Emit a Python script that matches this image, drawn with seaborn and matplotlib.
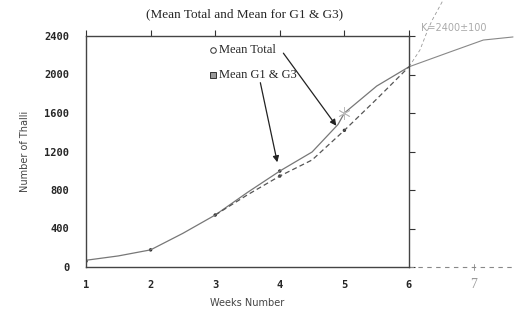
import matplotlib
matplotlib.use("Agg")
import matplotlib.pyplot as plt
import seaborn as sns
import pandas as pd

# values
weeks_total = [1, 1.5, 2, 2.5, 3, 3.5, 4, 4.5, 4.9, 5, 5.5, 6]
mean_total = [70, 115, 178, 350, 540, 775, 997, 1195, 1480, 1600, 1880, 2080]

weeks_g13 = [3, 3.5, 4, 4.5, 5, 5.5, 6]
mean_g13 = [540, 750, 945, 1112, 1420, 1745, 2080]

dot_weeks = [1, 2, 3, 4]
dot_values = [60, 178, 540, 997]
dot_g13_weeks = [4, 5]
dot_g13_values = [945, 1420]

# hand-drawn pencil extension beyond week 6
ext_weeks = [6, 6.63, 7.15, 7.61]
ext_values = [2080, 2233, 2358, 2390]
ext_dash_weeks = [6, 6.17, 6.29, 6.36, 6.55]
ext_dash_values = [2080, 2255, 2462, 2566, 2800]

yticks = [0, 400, 800, 1200, 1600, 2000, 2400]
xticks = [1, 2, 3, 4, 5, 6]

sns.set_style("white")
fig = plt.figure(figsize=(5.21, 3.09), dpi=100)
ax = fig.add_axes([86 / 521, 42 / 309, 323 / 521, 231 / 309])

df_total = pd.DataFrame({"week": weeks_total, "n": mean_total})
df_g13 = pd.DataFrame({"week": weeks_g13, "n": mean_g13})
sns.lineplot(data=df_total, x="week", y="n", ax=ax, color="#777777", lw=0.9)
sns.lineplot(data=df_g13, x="week", y="n", ax=ax, color="#555555", lw=0.9,
             linestyle=(0, (4, 2.5)))
sns.scatterplot(x=dot_weeks, y=dot_values, ax=ax, color="#222222", s=6,
                edgecolor="none")
sns.scatterplot(x=dot_g13_weeks, y=dot_g13_values, ax=ax, color="#333333",
                s=6, edgecolor="none")
ax.plot([5], [1600], marker=(6, 2, 0), ms=9, color="#bbbbbb", mew=0.6)

# pencil additions outside the frame
ax.plot(ext_weeks, ext_values, color="#888888", lw=0.8, clip_on=False)
ax.plot(ext_dash_weeks, ext_dash_values, color="#999999", lw=0.6,
        linestyle=(0, (4, 3)), clip_on=False)
ax.plot([6, 7.6], [0, 0], color="#888888", lw=0.8, linestyle=(0, (4, 4)),
        clip_on=False)
ax.plot([7, 7], [-30, 30], color="#888888", lw=0.6, clip_on=False)
ax.text(7, -110, "7", ha="center", va="top", fontsize=10, color="#999999",
        family="Liberation Serif")
ax.text(6.18, 2430, "K=2400±100", fontsize=7, color="#aaaaaa",
        family="DejaVu Sans", ha="left", va="bottom")

ax.set_xlim(1, 6)
ax.set_ylim(0, 2400)
ax.set_xticks(xticks)
ax.set_yticks(yticks)
ax.tick_params(direction="out", length=4, width=0.8, color="#333333",
               top=True, right=True, labeltop=False, labelright=False,
               labelsize=7.5)
ax.tick_params(axis="y", pad=8)
ax.tick_params(axis="x", pad=5)
for lab in ax.get_xticklabels() + ax.get_yticklabels():
    lab.set_family("DejaVu Sans Mono")
    lab.set_fontweight("bold")
for s in ax.spines.values():
    s.set_color("#444444")
    s.set_linewidth(1.0)

ax.set_xlabel("Weeks Number", fontsize=7, color="#444444",
              family="DejaVu Sans", labelpad=6)
ax.set_ylabel("Number of Thalli", fontsize=7, color="#444444",
              family="DejaVu Sans", labelpad=10)

fig.text(245 / 521, 1 - 14 / 309, "(Mean Total and Mean for G1 & G3)",
         ha="center", va="center", fontsize=9.5, family="Liberation Serif")

# hand-placed legend text and arrows
ax.plot([2.96], [2255], marker="o", ms=4, mfc="white", mec="#333333", mew=0.7)
ax.text(3.06, 2255, "Mean Total", fontsize=9, family="Liberation Serif",
        va="center")
ax.plot([2.96], [1995], marker="s", ms=4, mfc="#999999", mec="#333333",
        mew=0.7)
ax.text(3.06, 1995, "Mean G1 & G3", fontsize=9, family="Liberation Serif",
        va="center")
ax.annotate("", xy=(4.9, 1444), xytext=(4.03, 2245),
            arrowprops=dict(arrowstyle="-|>", color="#222222", lw=0.9,
                            mutation_scale=9))
ax.annotate("", xy=(3.97, 1060), xytext=(3.69, 1943),
            arrowprops=dict(arrowstyle="-|>", color="#222222", lw=0.9,
                            mutation_scale=9))

fig.savefig("out.png", dpi=100, facecolor="white")
